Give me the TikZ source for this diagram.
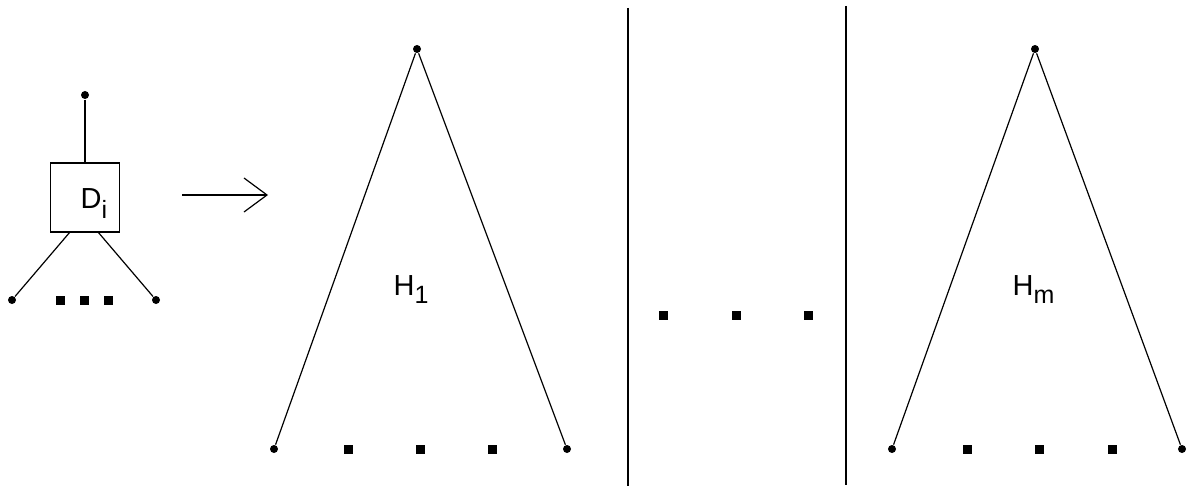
\documentclass[tikz,border=0pt]{standalone}
\usepackage{fontspec}
\setmainfont{Liberation Sans}
\usetikzlibrary{arrows.meta}
\tikzset{
  leaf/.style={circle,fill,inner sep=0pt,minimum size=4pt},
  gap/.style={rectangle,fill,inner sep=0pt,minimum size=4.5pt},
  sep/.style={line width=1.1pt},
}
\newcommand{\hlabel}[3]{#1\raisebox{-#3}{\fontsize{12.5}{12.5}\selectfont #2}}

\begin{document}
\begin{tikzpicture}[x=0.5pt,y=-0.5pt,line width=0.6pt,font=\fontsize{14.5}{16}\selectfont]
    \useasboundingbox (0,0) rectangle (1202,486);
    % gadget D_i
    \node[leaf] (droot) at (85,95) {};
    \node[draw,minimum width=34.5pt,minimum height=34.5pt,inner sep=0pt] (dbox) at (85,197.5) {};
    \node[anchor=base west,inner sep=0pt] (dname) at (80,208) {\hlabel{D}{i}{5pt}};
    \coordinate (dboxl) at (70,232);
    \coordinate (dboxr) at (98,232);
    \node[leaf] (dleft) at (12,300) {};
    \node[leaf] (dright) at (156,300) {};
    \draw (droot) -- (dbox.north);
    \draw (dboxl) -- (dleft);
    \draw (dboxr) -- (dright);
    \node[gap] (dgap1) at (60,300) {};
    \node[gap] (dgap2) at (84,300) {};
    \node[gap] (dgap3) at (108,300) {};
    % arrow
    \coordinate (afrom) at (182,195);
    \coordinate (ato) at (268,195);
    \draw[-{Straight Barb[length=11.5pt,width=17pt]}] (afrom) -- (ato);
    % tree H_1
    \node[leaf] (aroot) at (417,49) {};
    \node[leaf] (aleft) at (274,449) {};
    \node[leaf] (aright) at (567,449) {};
    \draw (aleft) -- (aroot) -- (aright);
    \node[anchor=base west,inner sep=0pt] (aname) at (393,295) {\hlabel{H}{1}{4pt}};
    \node[gap] (agap1) at (348,449) {};
    \node[gap] (agap2) at (420,449) {};
    \node[gap] (agap3) at (492,449) {};
    % separators
    \coordinate (s1top) at (628,8);
    \coordinate (s1bot) at (628,486);
    \coordinate (s2top) at (846,6);
    \coordinate (s2bot) at (846,485);
    \draw[sep] (s1top) -- (s1bot);
    \draw[sep] (s2top) -- (s2bot);
    \node[gap] (mgap1) at (663,315) {};
    \node[gap] (mgap2) at (736,315) {};
    \node[gap] (mgap3) at (808,315) {};
    % tree H_m
    \node[leaf] (broot) at (1035,49) {};
    \node[leaf] (bleft) at (892,449) {};
    \node[leaf] (bright) at (1182,449) {};
    \draw (bleft) -- (broot) -- (bright);
    \node[anchor=base west,inner sep=0pt] (bname) at (1012,295) {\hlabel{H}{m}{4pt}};
    \node[gap] (bgap1) at (967,449) {};
    \node[gap] (bgap2) at (1039,449) {};
    \node[gap] (bgap3) at (1112,449) {};
\end{tikzpicture}
\end{document}
